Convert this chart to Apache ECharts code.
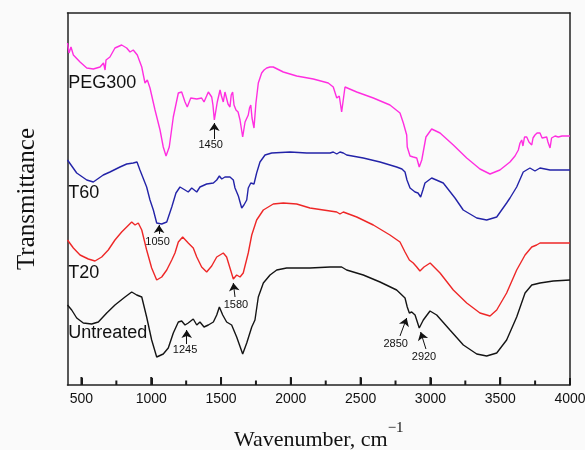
<!DOCTYPE html>
<html>
<head>
<meta charset="utf-8">
<script src="https://cdn.jsdelivr.net/npm/echarts@6/dist/echarts.min.js"></script>
<style>html,body{margin:0;padding:0;background:#fafafa;}#c{width:585px;height:450px;}</style>
</head>
<body>
<div id="c"></div>
<script>
// ---- data (wavenumber cm^-1, transmittance in arbitrary offset units) ----
const peg300 = [[400,342],[411,332],[425,338],[442,330],[490,323],[538,317],[585,316],[633,318],[658,322],[669,315],[676,325],[704,328],[740,337],[788,340],[824,337],[848,333],[871,335],[900,330],[932,318],[955,302],[972,305],[991,297],[1027,275],[1063,255],[1086,238],[1106,229],[1129,238],[1158,268],[1194,292],[1218,293],[1242,283],[1258,278],[1283,287],[1326,286],[1361,287],[1378,283],[1409,293],[1433,288],[1442,280],[1452,265],[1473,283],[1493,295],[1503,289],[1516,283],[1528,293],[1540,292],[1550,281],[1564,278],[1573,290],[1583,293],[1593,280],[1607,275],[1622,273],[1636,265],[1655,248],[1672,263],[1695,270],[1704,277],[1713,280],[1722,267],[1736,257],[1750,282],[1767,302],[1779,307],[1791,312],[1808,315],[1827,317],[1836,315],[1851,318],[1874,318],[1946,313],[2042,309],[2161,306],[2268,302],[2304,298],[2329,287],[2338,285],[2347,289],[2364,273],[2388,298],[2472,293],[2591,287],[2710,280],[2782,272],[2806,262],[2830,250],[2834,238],[2854,229],[2877,228],[2902,227],[2920,218],[2938,225],[2968,248],[3009,256],[3069,252],[3164,240],[3260,227],[3355,216],[3427,211],[3498,215],[3570,223],[3606,229],[3630,235],[3642,242],[3654,245],[3663,239],[3674,248],[3690,248],[3706,243],[3726,240],[3735,247],[3749,250],[3764,252],[3785,252],[3800,247],[3814,245],[3833,248],[3842,243],[3857,237],[3868,247],[3881,247],[3893,249],[3916,248],[3943,249],[4000,249]];
const t60 = [[400,225],[466,212],[538,205],[585,203],[656,210],[704,213],[776,218],[824,221],[871,222],[898,223],[919,215],[967,198],[991,185],[1015,175],[1039,162],[1075,161],[1111,163],[1147,178],[1177,192],[1206,198],[1242,195],[1265,193],[1290,197],[1326,193],[1349,198],[1397,201],[1445,202],[1469,205],[1488,209],[1505,206],[1528,208],[1564,208],[1588,205],[1600,197],[1624,189],[1648,177],[1664,180],[1684,185],[1695,197],[1713,202],[1736,201],[1755,212],[1779,223],[1815,230],[1863,232],[1994,233],[2114,232],[2281,232],[2304,233],[2329,231],[2352,233],[2376,232],[2400,230],[2519,227],[2639,223],[2758,218],[2796,216],[2818,213],[2832,205],[2854,197],[2890,193],[2911,192],[2930,188],[2946,195],[2961,202],[3009,207],[3092,202],[3176,187],[3235,175],[3332,167],[3403,165],[3475,168],[3546,182],[3570,187],[3618,198],[3665,213],[3713,217],[3749,214],[3785,217],[3857,215],[4000,215]];
const t20 = [[400,145],[442,137],[490,130],[549,126],[597,124],[645,128],[692,135],[740,145],[788,153],[824,158],[860,163],[884,160],[907,162],[932,155],[967,135],[1003,117],[1039,105],[1075,108],[1111,115],[1147,125],[1170,132],[1194,143],[1225,148],[1265,142],[1301,137],[1326,128],[1361,118],[1397,113],[1433,119],[1469,128],[1516,132],[1540,128],[1564,117],[1588,106],[1612,110],[1636,108],[1659,112],[1695,132],[1720,150],[1755,165],[1803,175],[1874,181],[1946,182],[2042,181],[2137,177],[2281,174],[2329,173],[2352,171],[2376,173],[2472,168],[2591,160],[2710,150],[2782,143],[2818,133],[2849,125],[2877,122],[2902,118],[2925,114],[2954,118],[2998,122],[3069,112],[3164,95],[3260,82],[3355,72],[3427,69],[3475,75],[3546,92],[3618,115],[3678,130],[3726,138],[3761,140],[3785,142],[3857,142],[4000,142]];
const untreated = [[400,80],[430,75],[466,67],[513,62],[573,61],[621,63],[681,72],[740,80],[812,88],[860,93],[896,90],[932,88],[967,68],[1003,45],[1039,28],[1086,31],[1122,37],[1158,52],[1194,63],[1218,64],[1242,60],[1265,62],[1301,66],[1326,60],[1349,63],[1378,58],[1409,60],[1445,63],[1469,70],[1488,78],[1512,70],[1540,63],[1576,60],[1612,48],[1655,31],[1684,42],[1720,58],[1743,65],[1767,88],[1803,102],[1851,110],[1899,115],[1970,117],[2042,117],[2137,117],[2281,118],[2329,118],[2340,120],[2364,118],[2400,115],[2519,110],[2639,103],[2758,95],[2818,87],[2834,78],[2849,72],[2866,73],[2890,70],[2920,57],[2949,65],[2997,74],[3045,70],[3140,55],[3236,40],[3332,31],[3403,29],[3475,32],[3546,45],[3618,68],[3678,92],[3726,100],[3785,102],[3880,104],[4000,105]];

const seriesNames = ['PEG300', 'T60', 'T20', 'Untreated'];
const seriesColors = ['#ff2ee0', '#2323a8', '#ee2727', '#141414'];
const curveLabelAt = [[405,302],[405,192],[405,112],[405,52]];

const majorStep = 500;
const majorTicks = [500,1000,1500,2000,2500,3000,3500];
const minorTicks = [750,1250,1750,2250,2750,3250,3750];

// peak annotations
const peakText  = ['1450','1050','1580','1245','2850','2920'];
const peakHead  = [[1452,262],[1056,160],[1588,102],[1254,55],[2830,67],[2930,53]];
const peakTail  = [[1452,246],[1056,151],[1600,88],[1254,41],[2782,49],[2968,36]];
const peakLabel = [[1426,240],[1045,143],[1607,80],[1242,35],[2751,41],[2954,28]];

const sans = '"Liberation Sans", Arial, Helvetica, sans-serif';
const serif = '"Liberation Serif", "Times New Roman", Times, serif';

const Y_MAX = 372;                    // y range in data units
const MAJOR_LEN = 8, MINOR_LEN = 4.5; // inward tick heights (data units along y)

const chart = echarts.init(document.getElementById('c'), null, { renderer: 'canvas' });
const datasets = [peg300, t60, t20, untreated];

const series = datasets.map((d, i) => ({
  name: seriesNames[i],
  type: 'line',
  xAxisIndex: 0,
  yAxisIndex: 0,
  data: d,
  showSymbol: false,
  symbol: 'none',
  lineStyle: { color: seriesColors[i], width: 1.4 },
  z: 3,
  markPoint: {
    symbol: 'circle', symbolSize: 0, silent: true,
    label: { show: true, position: 'right', distance: 0, formatter: '{b}', color: '#111', fontSize: 18, fontFamily: sans },
    data: [{ name: seriesNames[i], coord: curveLabelAt[i] }]
  }
}));

series.push({
  name: 'annotations',
  type: 'line',
  xAxisIndex: 0,
  yAxisIndex: 0,
  data: [[0, -100]],
  showSymbol: false,
  symbol: 'none',
  lineStyle: { width: 0 },
  markLine: {
    silent: true,
    symbol: ['none', 'arrow'],
    symbolSize: 8,
    label: { show: false },
    lineStyle: { color: '#111', width: 1, type: 'solid' },
    itemStyle: { color: '#111' },
    data: peakText.map((t, i) => [{ coord: peakTail[i] }, { coord: peakHead[i] }])
  },
  markPoint: {
    symbol: 'circle', symbolSize: 0, silent: true,
    label: { show: true, position: 'inside', formatter: '{b}', color: '#111', fontSize: 11, fontFamily: sans },
    data: peakText.map((t, i) => ({ name: t, coord: peakLabel[i] }))
  }
});

// inward axis ticks on the bottom frame, drawn as thin filled rects through the axis scales
series.push({
  name: 'ticks',
  type: 'custom',
  xAxisIndex: 0,
  yAxisIndex: 0,
  clip: false,
  silent: true,
  z: 6,
  data: majorTicks.map(v => [v, MAJOR_LEN]).concat(minorTicks.map(v => [v, MINOR_LEN])),
  renderItem: function (params, api) {
    const p0 = api.coord([api.value(0), 0]);
    const p1 = api.coord([api.value(0), api.value(1)]);
    return {
      type: 'rect',
      shape: { x: p0[0] - 1, y: p1[1], width: 2, height: p0[1] - p1[1] },
      style: { fill: '#1a1a1a' }
    };
  }
});

const frameLine = { show: true, onZero: false, lineStyle: { color: '#222', width: 1.5 } };

chart.setOption({
  animation: false,
  backgroundColor: '#fafafa',
  grid: { left: 67.5, right: 15, top: 13, bottom: 65, containLabel: false, outerBoundsMode: 'none' },
  xAxis: [{
    type: 'value', min: 400, max: 4000, position: 'bottom',
    minInterval: majorStep, maxInterval: majorStep,
    axisLine: frameLine,
    axisTick: { show: true, inside: true, length: 7, lineStyle: { color: '#1a1a1a', width: 2 } },
    axisLabel: { show: true, showMinLabel: false, showMaxLabel: true, color: '#111', fontSize: 14, fontFamily: sans, margin: 7,
      formatter: v => (v % majorStep === 0 ? String(v) : '') },
    splitLine: { show: false },
    name: '{a|Wavenumber, cm}{b|−1}',
    nameLocation: 'middle',
    nameGap: 36,
    nameTextStyle: {
      rich: {
        a: { fontFamily: serif, fontSize: 22, color: '#111', lineHeight: 30, verticalAlign: 'bottom' },
        b: { fontFamily: serif, fontSize: 15, color: '#111', verticalAlign: 'top' }
      }
    }
  }, {
    type: 'value', min: 400, max: 4000, position: 'top',
    axisLine: frameLine,
    axisTick: { show: false },
    axisLabel: { show: false },
    splitLine: { show: false }
  }],
  yAxis: [{
    type: 'value', min: 0, max: Y_MAX, position: 'left',
    axisLine: frameLine,
    axisTick: { show: false },
    axisLabel: { show: false },
    splitLine: { show: false },
    name: 'Transmittance',
    nameLocation: 'middle',
    nameGap: 28,
    nameTextStyle: { fontFamily: serif, fontSize: 25, color: '#111' }
  }, {
    type: 'value', min: 0, max: Y_MAX, position: 'right',
    axisLine: frameLine,
    axisTick: { show: false },
    axisLabel: { show: false },
    splitLine: { show: false }
  }],
  series: series
});
</script>
</body>
</html>
